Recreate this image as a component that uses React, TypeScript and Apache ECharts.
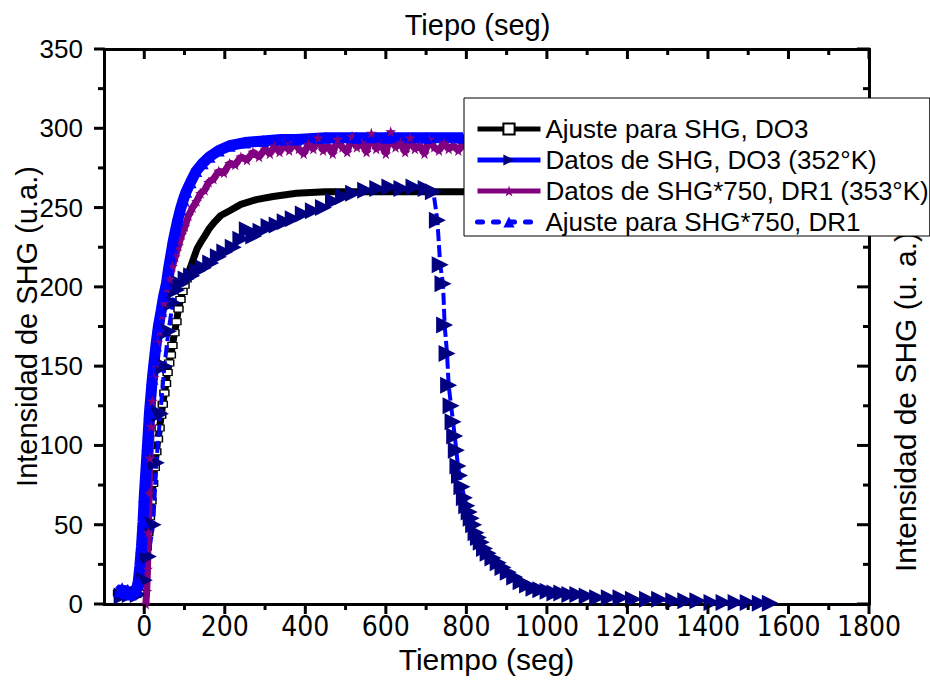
import React, { useEffect, useRef } from 'react';
import * as echarts from 'echarts';

// ---- Data (x: seconds, y: a.u.) ----
const fitDO3: [number, number][] = [
  [-65, 7], [-58, 7], [-50, 6], [-40, 5], [-30, 5], [-20, 6], [-12, 8], [-6, 11], [-2, 17], [2, 27],
  [6, 36], [10, 45], [14, 55], [18, 65], [22, 76], [26, 86], [30, 96], [34, 104], [38, 111], [42, 119],
  [46, 126], [50, 133], [54, 139], [58, 146], [62, 152], [66, 157], [70, 163], [75, 171], [80, 178], [85, 186],
  [90, 192], [95, 197], [100, 201], [105, 205], [110, 209], [117, 214], [124, 219], [131, 224], [140, 228], [150, 232],
  [162, 237], [175, 241], [190, 245], [212, 248], [240, 252], [278, 255], [320, 257], [378, 259], [450, 260], [527, 260],
  [600, 260], [700, 260], [800, 260],
];

const dataDO3: [number, number][] = [
  [-55, 5], [-35, 6], [-15, 6], [0, 15], [10, 30], [22, 50], [30, 89], [40, 120], [50, 150], [60, 172],
  [71, 190], [80, 198], [90, 202], [104, 205], [118, 207], [132, 210], [147, 212], [165, 215], [184, 219], [200, 222],
  [221, 225], [240, 230], [256, 236], [272, 232], [290, 235], [310, 238], [330, 239], [350, 241], [370, 243], [395, 246],
  [420, 248], [445, 250], [470, 254], [495, 257], [520, 259], [550, 261], [580, 262], [610, 263], [640, 262], [670, 263],
  [700, 262], [718, 260], [728, 242], [735, 214], [742, 202], [746, 176], [752, 158], [756, 138], [762, 125], [767, 115],
  [771, 106], [775, 97], [779, 87], [783, 81], [789, 74], [795, 67], [801, 62], [807, 58], [812, 54], [818, 50],
  [824, 45], [830, 42], [837, 39], [845, 35], [854, 32], [866, 29], [879, 26], [891, 23], [904, 20], [920, 17],
  [936, 14], [952, 12], [968, 10], [985, 9], [1003, 8], [1020, 7], [1037, 7], [1057, 6], [1077, 6], [1100, 5],
  [1126, 4], [1155, 4], [1184, 4], [1215, 3], [1250, 3], [1280, 3], [1315, 2], [1345, 2], [1375, 2], [1410, 1],
  [1440, 1], [1470, 1], [1500, 1], [1530, 0.5], [1555, 0.5],
];

const dataDR1: [number, number][] = [
  [4, 0], [6, 8], [8, 22], [10, 45], [12, 70], [14, 92], [17, 112], [20, 128], [24, 143], [28, 152],
  [33, 165], [38, 172], [44, 182], [50, 190], [56, 199], [63, 205], [70, 213], [77, 219], [85, 226], [93, 233],
  [101, 238], [110, 245], [120, 250], [130, 254], [140, 259], [150, 261], [160, 266], [172, 268], [185, 273], [198, 272],
  [212, 278], [226, 277], [240, 282], [255, 280], [270, 285], [285, 282], [300, 287], [312, 284], [324, 289], [336, 285],
  [348, 290], [360, 286], [372, 291], [384, 287], [396, 284], [408, 290], [420, 287], [432, 294], [444, 286], [456, 289],
  [468, 284], [480, 293], [492, 288], [504, 285], [516, 295], [528, 288], [540, 291], [552, 285], [564, 297], [576, 287],
  [588, 290], [600, 284], [612, 298], [624, 288], [636, 291], [648, 285], [660, 294], [672, 287], [684, 289], [696, 284],
  [708, 293], [720, 288], [732, 286], [744, 291], [756, 287], [768, 289], [780, 286], [792, 290],
];

const fitDR1: [number, number][] = [
  [-62, 8], [-55, 10], [-48, 7], [-41, 9], [-34, 6], [-27, 8], [-20, 9], [-15, 14], [-11, 24], [-7, 36],
  [-3, 52], [0, 68], [4, 84], [8, 100], [13, 121], [20, 142], [25, 154], [29, 163], [35, 175], [42, 185],
  [48, 194], [55, 202], [60, 211], [66, 220], [72, 229], [78, 236], [83, 242], [90, 249], [97, 255], [104, 260],
  [115, 266], [129, 273], [145, 278], [162, 282], [185, 286], [212, 289], [250, 291], [295, 292], [340, 293], [378, 293],
  [450, 294], [527, 294], [600, 294], [700, 294], [790, 294],
];

const seriesNames = [
  'Ajuste para SHG, DO3',
  'Datos de SHG, DO3 (352°K)',
  'Datos de SHG*750, DR1 (353°K)',
  'Ajuste para SHG*750, DR1',
];

// tick positions (axis values)
const xMajorTicks = [0, 200, 400, 600, 800, 1000, 1200, 1400, 1600, 1800];
const xMinorTicks = [100, 300, 500, 700, 900, 1100, 1300, 1500, 1700];
const yMajorTicks = [0, 50, 100, 150, 200, 250, 300, 350];
const yMinorTicks = [25, 75, 125, 175, 225, 275, 325];

const xTitleBottom = 'Tiempo (seg)';
const xTitleTop = 'Tiepo (seg)';
const yTitleLeft = 'Intensidad de SHG (u.a.)';
const yTitleRight = 'Intensidad de SHG (u. a.)';

const FONT = '"Liberation Sans", Arial, sans-serif';
const NARROW = '"Liberation Sans Narrow", "Arial Narrow", "DejaVu Sans Condensed", sans-serif';
const STAR = 'path://M50,0L61,35L98,35L68,57L79,91L50,70L21,91L32,57L2,35L39,35Z';

const axisLineStyle = { color: '#000', width: 3 };

const X_MIN = -100;
const X_MAX = 1800;
const Y_MIN = 0;
const Y_MAX = 350;

export default function App() {
  const ref = useRef<HTMLDivElement>(null);
  useEffect(() => {
    if (!ref.current) return;
    const chart = echarts.init(ref.current, undefined, { renderer: 'svg' });

    // tick marks: [side, value, length]; side 0 bottom (out), 1 top (in), 2 left (out), 3 right (in)
    const tickData: number[][] = [];
    xMajorTicks.forEach((v) => { tickData.push([0, v, 10]); tickData.push([1, v, 10]); });
    xMinorTicks.forEach((v) => { tickData.push([0, v, 6]); tickData.push([1, v, 6]); });
    yMajorTicks.forEach((v) => { tickData.push([2, v, 10]); tickData.push([3, v, 12]); });
    yMinorTicks.forEach((v) => { tickData.push([2, v, 6]); tickData.push([3, v, 6]); });

    const xCommon = {
      type: 'value' as const,
      min: X_MIN,
      max: X_MAX,
      splitNumber: 10,
      minInterval: 200,
      maxInterval: 200,
      splitLine: { show: false },
      axisTick: { show: false },
      minorTick: { show: false },
    };
    const yCommon = {
      type: 'value' as const,
      min: Y_MIN,
      max: Y_MAX,
      interval: 50,
      splitLine: { show: false },
      axisTick: { show: false },
      minorTick: { show: false },
    };
    const option: any = {
      animation: false,
      backgroundColor: '#fff',
      grid: { left: 104, right: 61, top: 49, bottom: 94, outerBoundsMode: 'none', containLabel: false },
      xAxis: [
        {
          ...xCommon,
          position: 'bottom',
          axisLine: { show: true, onZero: false, lineStyle: axisLineStyle },
          axisLabel: {
            show: true,
            margin: 8,
            fontFamily: NARROW,
            fontSize: 28,
            color: '#000',
            formatter: (v: number) => (v < 0 ? '' : String(v)),
          },
          name: xTitleBottom,
          nameLocation: 'middle',
          nameGap: 40,
          nameMoveOverlap: false,
          nameTextStyle: { fontFamily: FONT, fontSize: 30, color: '#000' },
        },
        {
          ...xCommon,
          position: 'top',
          axisLine: { show: true, onZero: false, lineStyle: axisLineStyle },
          axisLabel: { show: false },
          name: xTitleTop,
          nameLocation: 'middle',
          nameGap: 10,
          nameMoveOverlap: false,
          nameTextStyle: { fontFamily: FONT, fontSize: 29, color: '#000', padding: [0, 18, 0, 0] },
        },
      ],
      yAxis: [
        {
          ...yCommon,
          position: 'left',
          axisLine: { show: true, onZero: false, lineStyle: axisLineStyle },
          axisLabel: { show: true, margin: 21, fontFamily: FONT, fontSize: 26, color: '#000' },
          name: yTitleLeft,
          nameLocation: 'middle',
          nameGap: 63,
          nameMoveOverlap: false,
          nameTextStyle: { fontFamily: FONT, fontSize: 29, color: '#000' },
        },
        {
          ...yCommon,
          position: 'right',
          axisLine: { show: true, onZero: false, lineStyle: axisLineStyle },
          axisLabel: { show: false },
        },
      ],
      legend: {
        orient: 'vertical',
        left: 464,
        top: 98,
        padding: [18, 1, 1, 11],
        itemGap: 5,
        itemWidth: 63,
        itemHeight: 14,
        backgroundColor: '#fff',
        borderColor: '#000',
        borderWidth: 1,
        z: 6,
        textStyle: { fontFamily: FONT, fontSize: 26, color: '#000' },
        data: [
          { name: seriesNames[0], lineStyle: { width: 5 } },
          { name: seriesNames[1], lineStyle: { width: 5, type: 'solid' } },
          { name: seriesNames[2], lineStyle: { width: 5 } },
          { name: seriesNames[3], lineStyle: { width: 5, type: [5, 11], cap: 'round' } },
        ],
      },
      graphic: [
        {
          type: 'text',
          x: 905,
          y: 402,
          rotation: Math.PI / 2,
          z: 0,
          style: {
            text: yTitleRight,
            font: '30px "Liberation Sans", Arial, sans-serif',
            fill: '#000',
            align: 'center',
            verticalAlign: 'middle',
            textAlign: 'center',
            textVerticalAlign: 'middle',
          },
        },
      ],
      series: [
        {
          name: seriesNames[0],
          type: 'line',
          xAxisIndex: 0,
          yAxisIndex: 0,
          data: fitDO3.map(([x, y]) => (x <= 110 ? { value: [x, y] } : { value: [x, y], symbol: 'none' })),
          symbol: 'rect',
          symbolSize: [9, 6],
          itemStyle: { color: '#fff', borderColor: '#000', borderWidth: 1.2 },
          lineStyle: { color: '#000', width: 7 },
          z: 2,
        },
        {
          name: seriesNames[1],
          type: 'line',
          xAxisIndex: 0,
          yAxisIndex: 0,
          data: dataDO3,
          symbol: 'triangle',
          symbolRotate: -90,
          symbolSize: 17,
          itemStyle: { color: '#000080' },
          lineStyle: { color: '#0000ff', width: 4, type: [12, 4] },
          z: 3,
        },
        {
          name: seriesNames[2],
          type: 'line',
          xAxisIndex: 0,
          yAxisIndex: 0,
          data: dataDR1,
          symbol: STAR,
          symbolSize: 11,
          itemStyle: { color: '#800080' },
          lineStyle: { color: '#800080', width: 7 },
          z: 3,
        },
        {
          name: seriesNames[3],
          type: 'line',
          xAxisIndex: 0,
          yAxisIndex: 0,
          data: fitDR1,
          symbol: 'triangle',
          symbolSize: 12,
          itemStyle: { color: '#0000ff' },
          lineStyle: { color: '#0000ff', width: 11 },
          z: 3,
        },
        {
          name: 'ticks',
          type: 'custom',
          xAxisIndex: 0,
          yAxisIndex: 0,
          clip: false,
          silent: true,
          z: 5,
          data: tickData,
          renderItem: (_params: any, api: any) => {
            const side = api.value(0);
            const v = api.value(1);
            const len = api.value(2);
            let p: number[];
            let dx = 0;
            let dy = 0;
            if (side === 0) { p = api.coord([v, Y_MIN]); dy = len; }
            else if (side === 1) { p = api.coord([v, Y_MAX]); dy = len; }
            else if (side === 2) { p = api.coord([X_MIN, v]); dx = -len; }
            else { p = api.coord([X_MAX, v]); dx = -len; }
            return {
              type: 'line',
              shape: { x1: p[0], y1: p[1], x2: p[0] + dx, y2: p[1] + dy },
              style: { stroke: '#000', lineWidth: 3 },
            };
          },
        },
      ],
    };
    chart.setOption(option);
    return () => chart.dispose();
  }, []);
  return (
    <div
      ref={ref}
      style={{ position: 'fixed', left: 0, top: 0, width: 930, height: 698, background: '#fff' }}
    />
  );
}
